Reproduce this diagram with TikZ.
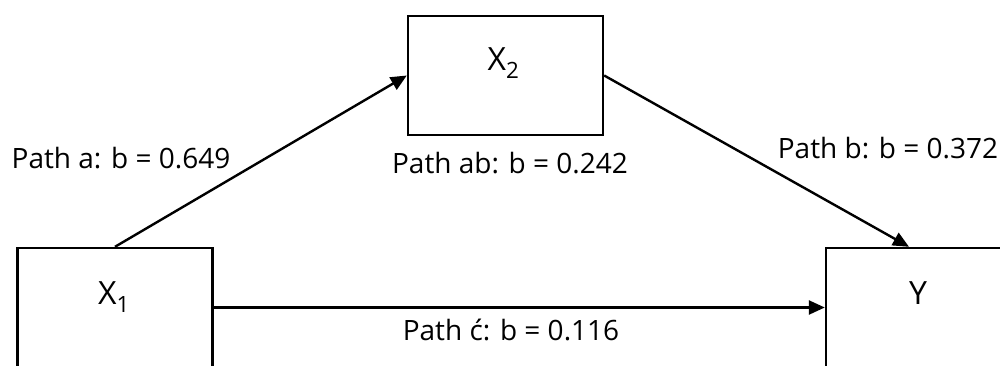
\documentclass[tikz,border=0pt]{standalone}
\usepackage{fontspec}
\setmainfont{Open Sans}
\usetikzlibrary{arrows.meta,calc}
\begin{document}
\begin{tikzpicture}[x=1pt,y=-1pt,
  box/.style={draw,line width=2.4pt,minimum width=195pt,minimum height=119pt,inner sep=0pt},
  arr/.style={line width=2.4pt,-{Triangle[length=16pt,width=14pt]}},
  lbl/.style={font=\fontsize{28}{32}\selectfont,anchor=base,inner sep=0pt},
  var/.style={font=\fontsize{32}{36}\selectfont,anchor=base,inner sep=0pt}]
\useasboundingbox (0,0) rectangle (1000,366);
\node[box] (x1) at (115,307.5) {};
\node[box] (x2) at (505.5,75.5) {};
\node[box,minimum width=196pt] (y) at (924,307.5) {};
\node[var] (x1t) at ($(x1.north)+(-1,58)$) {X\textsubscript{1}};
\node[var] (x2t) at ($(x2.north)+(-2,56)$) {X\textsubscript{2}};
\node[var] (yt) at ($(y.north)+(-6,58)$) {Y};
\coordinate (yin) at ($(y.north)+(-15,0)$);
\draw[arr] (x1.north) -- (x2.west);
\draw[arr] (x2.east) -- (yin);
\draw[arr] (x1.east) -- (y.west);
\node[lbl] (la) at (121,168) {Path a: b = 0.649};
\node[lbl] (lab) at (510,173) {Path ab: b = 0.242};
\node[lbl] (lb) at (888,159) {Path b: b = 0.372};
\node[lbl] (lc) at (511,340) {Path ć: b = 0.116};
\end{tikzpicture}
\end{document}
